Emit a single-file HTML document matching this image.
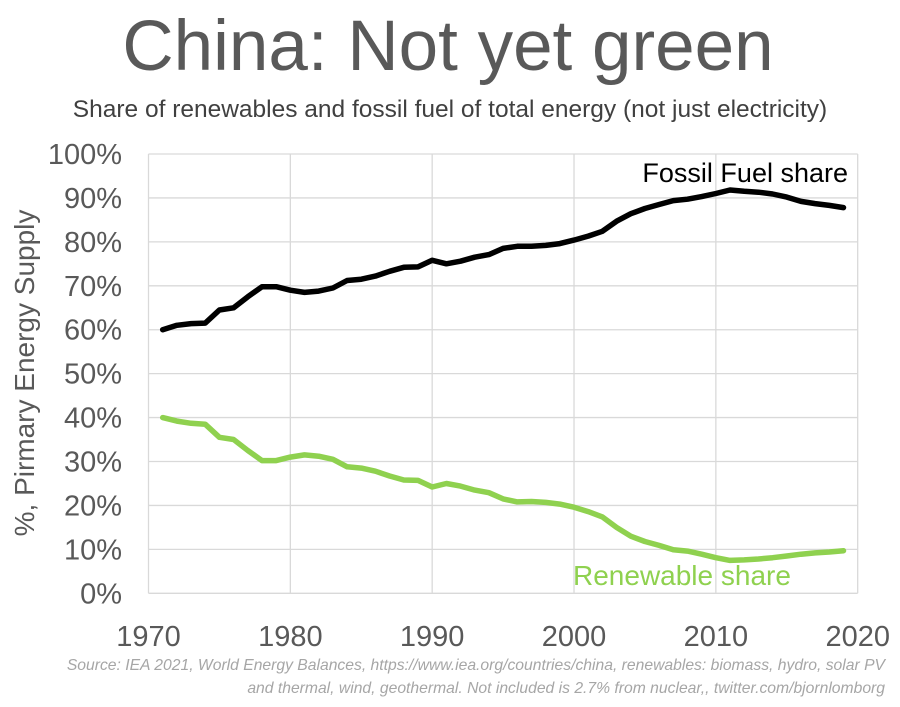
<!DOCTYPE html>
<html><head><meta charset="utf-8"><style>
body{margin:0;background:#fff;}
svg{display:block;font-family:"Liberation Sans",sans-serif;}
</style></head><body>
<svg width="900" height="707">
<text x="448" y="70" text-anchor="middle" font-size="71" fill="#595959">China: Not yet green</text>
<text x="450" y="117" text-anchor="middle" font-size="24.5" fill="#404040">Share of renewables and fossil fuel of total energy (not just electricity)</text>
<text transform="translate(34,373) rotate(-90)" text-anchor="middle" font-size="28" fill="#595959">%, Pirmary Energy Supply</text>
<g id="grid"></g><g id="yt"></g><g id="xt"></g><g id="lines"></g>
<text x="848" y="182" text-anchor="end" font-size="27" fill="#000">Fossil Fuel share</text>
<text x="573" y="585" font-size="28" fill="#8fd14f">Renewable share</text>
<text x="885" y="670" text-anchor="end" font-size="15.7" font-style="italic" fill="#a6a6a6">Source: IEA 2021, World Energy Balances, https://www.iea.org/countries/china, renewables: biomass, hydro, solar PV</text>
<text x="885" y="693" text-anchor="end" font-size="15.7" font-style="italic" fill="#a6a6a6">and thermal, wind, geothermal. Not included is 2.7% from nuclear,, twitter.com/bjornlomborg</text>
</svg>
<script>
const years=[];for(let y=1971;y<=2019;y++)years.push(y);
const fossil=[60,61,61.4,61.5,64.5,65,67.5,69.8,69.8,69,68.5,68.8,69.5,71.2,71.5,72.2,73.3,74.2,74.3,75.8,75,75.6,76.5,77.1,78.5,79,79,79.2,79.6,80.4,81.3,82.4,84.7,86.4,87.6,88.5,89.4,89.7,90.3,91,91.8,91.5,91.3,90.9,90.2,89.2,88.7,88.3,87.8];
const renew=[40,39.2,38.7,38.5,35.5,35,32.5,30.2,30.2,31,31.5,31.2,30.5,28.8,28.5,27.8,26.7,25.8,25.7,24.2,25,24.4,23.5,22.9,21.5,20.8,20.9,20.7,20.3,19.6,18.6,17.4,15,13,11.8,10.9,9.9,9.6,8.9,8.1,7.5,7.6,7.8,8.1,8.5,8.9,9.2,9.4,9.7];
const yTicks=[0,10,20,30,40,50,60,70,80,90,100];
const xTicks=[1970,1980,1990,2000,2010,2020];
const L=148.5,R=857.7,T=154,B=593.3;
const sx=y=>L+(y-1970)/50*(R-L), sy=v=>B-v/100*(B-T);
const NS='http://www.w3.org/2000/svg';
function mk(p,tag,a){const e=document.createElementNS(NS,tag);for(const k in a)e.setAttribute(k,a[k]);document.getElementById(p).appendChild(e);return e;}
yTicks.forEach(v=>{
 const l=mk('grid','line',{x1:L,x2:R,y1:sy(v),y2:sy(v),stroke:'#d9d9d9','stroke-width':1.3});
 
 
 const t=mk('yt','text',{x:122,y:sy(v)+10,'text-anchor':'end','font-size':29,fill:'#595959'});t.textContent=v+'%';
 
 
});
xTicks.forEach(y=>{
 const l=mk('grid','line',{x1:sx(y),x2:sx(y),y1:T,y2:B,stroke:'#d9d9d9','stroke-width':1.3});
 
 
 const t=mk('xt','text',{x:sx(y),y:646,'text-anchor':'middle','font-size':29,fill:'#595959'});t.textContent=y;
 
 
});
const pts=a=>a.map((v,i)=>sx(years[i]).toFixed(1)+','+sy(v).toFixed(1)).join(' ');
const f=mk('lines','polyline',{points:pts(fossil),fill:'none',stroke:'#000','stroke-width':5.5,'stroke-linejoin':'round','stroke-linecap':'round'});


const r=mk('lines','polyline',{points:pts(renew),fill:'none',stroke:'#8fd14f','stroke-width':5.5,'stroke-linejoin':'round','stroke-linecap':'round'});


</script>
</body></html>
